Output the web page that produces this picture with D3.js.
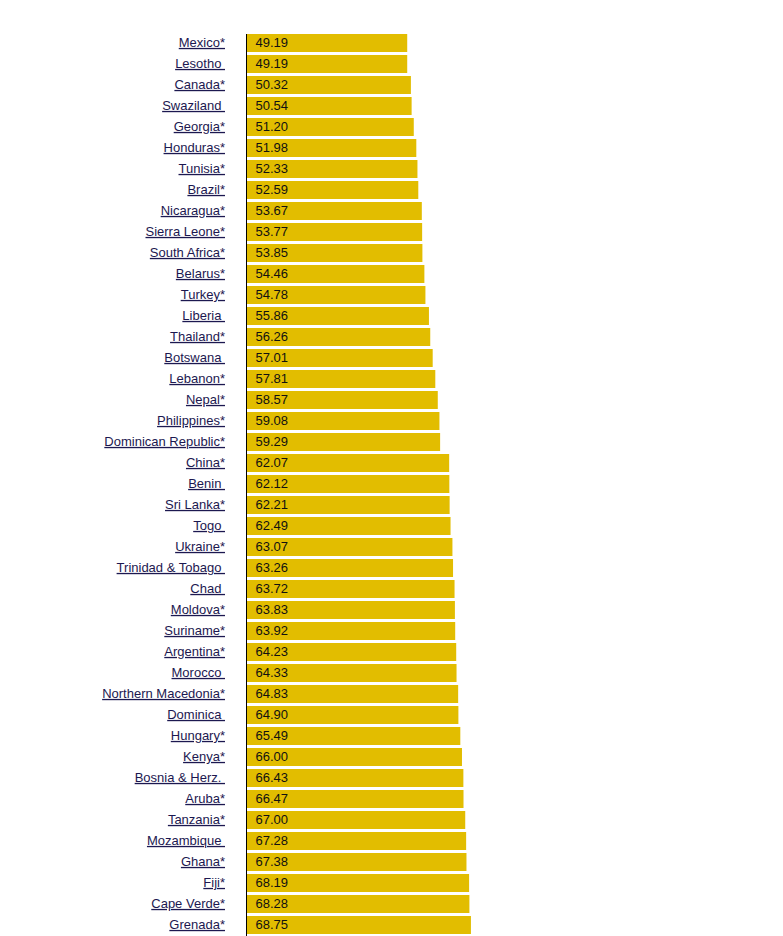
<!DOCTYPE html>
<html>
<head>
<meta charset="utf-8">
<script src="https://cdn.jsdelivr.net/npm/d3@7"></script>
<style>
  html, body { margin: 0; padding: 0; background: #fff; }
  svg { display: block; }
  .lbl { font-family: Arial, "Liberation Sans", sans-serif; font-size: 13px; fill: #1c1850; text-decoration: underline; white-space: pre; }
  .val { font-family: Arial, "Liberation Sans", sans-serif; font-size: 13px; fill: #111; }
</style>
</head>
<body>
<svg id="chart" width="783" height="936"></svg>
<script>
const countries = ["Mexico*", "Lesotho ", "Canada*", "Swaziland ", "Georgia*", "Honduras*", "Tunisia*", "Brazil*",
  "Nicaragua*", "Sierra Leone*", "South Africa*", "Belarus*", "Turkey*", "Liberia ", "Thailand*", "Botswana ",
  "Lebanon*", "Nepal*", "Philippines*", "Dominican Republic*", "China*", "Benin ", "Sri Lanka*", "Togo ",
  "Ukraine*", "Trinidad & Tobago ", "Chad ", "Moldova*", "Suriname*", "Argentina*", "Morocco ", "Northern Macedonia*",
  "Dominica ", "Hungary*", "Kenya*", "Bosnia & Herz. ", "Aruba*", "Tanzania*", "Mozambique ", "Ghana*",
  "Fiji*", "Cape Verde*", "Grenada*"];
const values = [49.19, 49.19, 50.32, 50.54, 51.20, 51.98, 52.33, 52.59,
  53.67, 53.77, 53.85, 54.46, 54.78, 55.86, 56.26, 57.01,
  57.81, 58.57, 59.08, 59.29, 62.07, 62.12, 62.21, 62.49,
  63.07, 63.26, 63.72, 63.83, 63.92, 64.23, 64.33, 64.83,
  64.90, 65.49, 66.00, 66.43, 66.47, 67.00, 67.28, 67.38,
  68.19, 68.28, 68.75];

const data = countries.map((c, i) => ({ name: c, value: values[i] }));
const svg = d3.select("#chart");

const x = d3.scaleLinear().domain([0, 70]).range([247, 475]);
const y = d3.scaleBand().domain(countries).range([34, 934]).paddingInner(3 / 21).paddingOuter(0);

svg.selectAll("rect.bar").data(data).join("rect")
  .attr("class", "bar")
  .attr("x", x(0))
  .attr("y", d => y(d.name))
  .attr("width", d => x(d.value) - x(0))
  .attr("height", y.bandwidth())
  .attr("fill", "#e2bd00");

svg.selectAll("text.val").data(data).join("text")
  .attr("class", "val")
  .attr("x", x(0) + 8.5)
  .attr("y", d => y(d.name) + y.bandwidth() / 2)
  .attr("dy", "0.3em")
  .text(d => d.value.toFixed(2));

svg.selectAll("text.lbl").data(data).join("text")
  .attr("class", "lbl")
  .attr("x", 225)
  .attr("y", d => y(d.name) + y.bandwidth() / 2)
  .attr("dy", "0.3em")
  .attr("text-anchor", "end")
  .text(d => d.name.replace(/ $/, "\u00a0"));

svg.append("line")
  .attr("x1", 246.5).attr("x2", 246.5)
  .attr("y1", 34).attr("y2", 936)
  .attr("stroke", "#000").attr("stroke-width", 1);
</script>
</body>
</html>
